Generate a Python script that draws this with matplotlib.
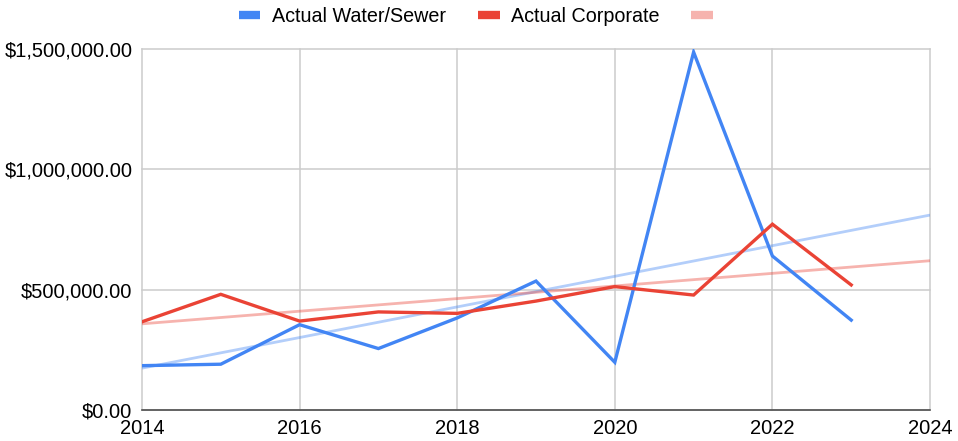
import numpy as np
import matplotlib
matplotlib.use("Agg")
import matplotlib.pyplot as plt
from matplotlib.lines import Line2D
from matplotlib.ticker import FuncFormatter, MultipleLocator

plt.rcParams['font.family'] = ['Liberation Sans', 'DejaVu Sans']

years = [2014, 2015, 2016, 2017, 2018, 2019, 2020, 2021, 2022, 2023]
water_sewer = [186000, 192000, 356000, 257000, 384000, 537000, 200000, 1487000, 641000, 375000]
corporate = [368000, 482000, 371000, 409000, 403000, 454000, 514000, 479000, 773000, 521000]
series_labels = ["Actual Water/Sewer", "Actual Corporate", ""]

BLUE = "#4285F4"
RED = "#EA4335"

fig = plt.figure(figsize=(9.58, 4.41), dpi=100)
ax = fig.add_axes([0.1482, 0.0692, 0.8226, 0.8197])

x = np.array(years, dtype=float)
trend_x = np.array([2014.0, 2024.0])
for vals, col in ((water_sewer, BLUE), (corporate, RED)):
    coef = np.polyfit(x, np.array(vals, dtype=float), 1)
    ax.plot(trend_x, np.polyval(coef, trend_x), color=col, alpha=0.4, lw=2.0,
            zorder=2, solid_capstyle='butt')

ax.plot(years, water_sewer, color=BLUE, lw=2.4, zorder=3, solid_joinstyle='miter')
ax.plot(years, corporate, color=RED, lw=2.4, zorder=3, solid_joinstyle='miter')

ax.set_xlim(2014, 2024)
ax.set_ylim(0, 1500000)
ax.xaxis.set_major_locator(MultipleLocator(2))
ax.yaxis.set_major_locator(MultipleLocator(500000))
ax.yaxis.set_major_formatter(FuncFormatter(lambda v, p: "${:,.2f}".format(v)))
ax.grid(True, color="#cccccc", lw=1.1, zorder=0)
ax.set_axisbelow(True)
for s in ("top", "right", "left"):
    ax.spines[s].set_visible(False)
ax.spines["bottom"].set_color("#444444")
ax.spines["bottom"].set_linewidth(1.1)
ax.tick_params(axis='both', length=0, labelsize=14.5, colors="#000000")
ax.tick_params(axis='y', pad=7)
ax.tick_params(axis='x', pad=6)
for gl in ax.get_xgridlines() + ax.get_ygridlines():
    gl.set_clip_on(False)

handles = [Line2D([], [], color=BLUE, lw=6, solid_capstyle='butt'),
           Line2D([], [], color=RED, lw=6, solid_capstyle='butt'),
           Line2D([], [], color=RED, alpha=0.4, lw=6, solid_capstyle='butt')]
fig.legend(handles, series_labels, loc='upper center', bbox_to_anchor=(0.503, 1.012),
           ncol=3, frameon=False, fontsize=14.2, handlelength=1.1,
           handletextpad=0.6, columnspacing=1.6, borderaxespad=0.2)

fig.savefig("out.png", dpi=100)
